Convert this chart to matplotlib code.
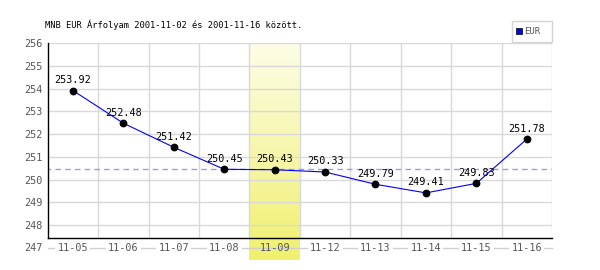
import matplotlib
matplotlib.use("Agg")
import matplotlib.pyplot as plt
import numpy as np
from matplotlib.patches import Rectangle

categories = ["11-05", "11-06", "11-07", "11-08", "11-09", "11-12", "11-13", "11-14", "11-15", "11-16"]
values = [253.92, 252.48, 251.42, 250.45, 250.43, 250.33, 249.79, 249.41, 249.83, 251.78]
highlight_index = 4
ref_value = 250.45
y_ticks = [248, 249, 250, 251, 252, 253, 254, 255, 256]
title = "MNB EUR Árfolyam 2001-11-02 és 2001-11-16 között."
series_name = "EUR"

mono = "DejaVu Sans Mono"
fig = plt.figure(figsize=(6, 2.7), dpi=100)
ax = fig.add_axes([47.7 / 600, 1 - 238.3 / 270, (552 - 47.7) / 600, (238.3 - 43.3) / 270])
ymin, ymax = 247.41, 256
ax.set_xlim(-0.5, len(categories) - 0.5)
ax.set_ylim(ymin, ymax)

# gradient highlight band
grad = np.linspace(0, 1, 256).reshape(-1, 1)
top = np.array([253, 253, 232]) / 255
bot = np.array([240, 240, 110]) / 255
img = top + (bot - top) * grad[:, :, None] * np.ones((1, 1, 3))
band_bottom = ymax - (260 - 43.3) / 22.7
ax.imshow(img[:, :, :].reshape(256, 1, 3), extent=[highlight_index - 0.5, highlight_index + 0.5, band_bottom, ymax],
          aspect="auto", origin="upper", zorder=0, clip_on=False)
ax.set_xlim(-0.5, len(categories) - 0.5)
ax.set_ylim(ymin, ymax)

# grid
for yv in y_ticks:
    ax.axhline(yv, color="#d9d9d9", lw=1, zorder=1)
for k in range(len(categories)):
    ax.axvline(k + 0.5, color="#d9d9d9", lw=1, zorder=1)
# line below the axis through the x labels
ax.axhline(247, color="#cfcfcf", lw=1, zorder=1, clip_on=False)

# reference dashed line
ax.axhline(ref_value, color="#9a9af5", lw=1, ls=(2, (4, 3)), zorder=2)

x = np.arange(len(categories))
ax.plot(x, values, color="#0000ff", lw=0.8, zorder=3)
ax.plot(x, values, "o", color="black", ms=4.6, zorder=4)
for xi, v in zip(x, values):
    ax.annotate(f"{v:.2f}", (xi, v), xytext=(0, 4), textcoords="offset points",
                ha="center", va="bottom", fontsize=7.3, family=mono, color="black", zorder=5)

ax.set_xticks([])
ax.set_yticks(y_ticks)
ax.set_yticklabels([str(t) for t in y_ticks], family=mono, fontsize=7.3, color="#555555")
ax.tick_params(axis="y", length=0, pad=4)
for xi, c in zip(x, categories):
    ax.text(xi, 247, c, ha="center", va="center", fontsize=7.3, family=mono, color="#555555",
            clip_on=False, zorder=6,
            bbox=dict(facecolor="white" if xi != highlight_index else "none", edgecolor="none", pad=1.5))
ax.text(-0.5, 247, "247", transform=ax.transData, ha="right", va="center", fontsize=7.3,
        family=mono, color="#555555", clip_on=False)
# fix position of 247 label with offset
ax.texts[-1].set_position((-0.5 - 5 / 50.4, 247))

for s in ["top", "right"]:
    ax.spines[s].set_visible(False)
ax.spines["left"].set_color("black")
ax.spines["bottom"].set_color("black")
ax.spines["left"].set_linewidth(1)
ax.spines["bottom"].set_linewidth(1)
ax.spines["left"].set_zorder(7)
ax.spines["bottom"].set_zorder(7)

fig.text(45 / 600, 1 - 25 / 270, title, fontsize=6.3, family=mono, color="black", ha="left", va="center")

# legend
fig.patches.append(Rectangle((511.7 / 600, 1 - 41.7 / 270), 40.6 / 600, 20.7 / 270, transform=fig.transFigure,
                             facecolor="white", edgecolor="#d5d5d5", lw=1))
fig.patches.append(Rectangle((516 / 600, 1 - 33.5 / 270), 5.5 / 600, 5.5 / 270, transform=fig.transFigure,
                             facecolor="#0000ff", edgecolor="black", lw=0.5))
fig.text(524.5 / 600, 1 - 31 / 270, series_name, fontsize=6.5, family=mono, color="#555555", ha="left", va="center")

fig.savefig("out.png", dpi=100)
